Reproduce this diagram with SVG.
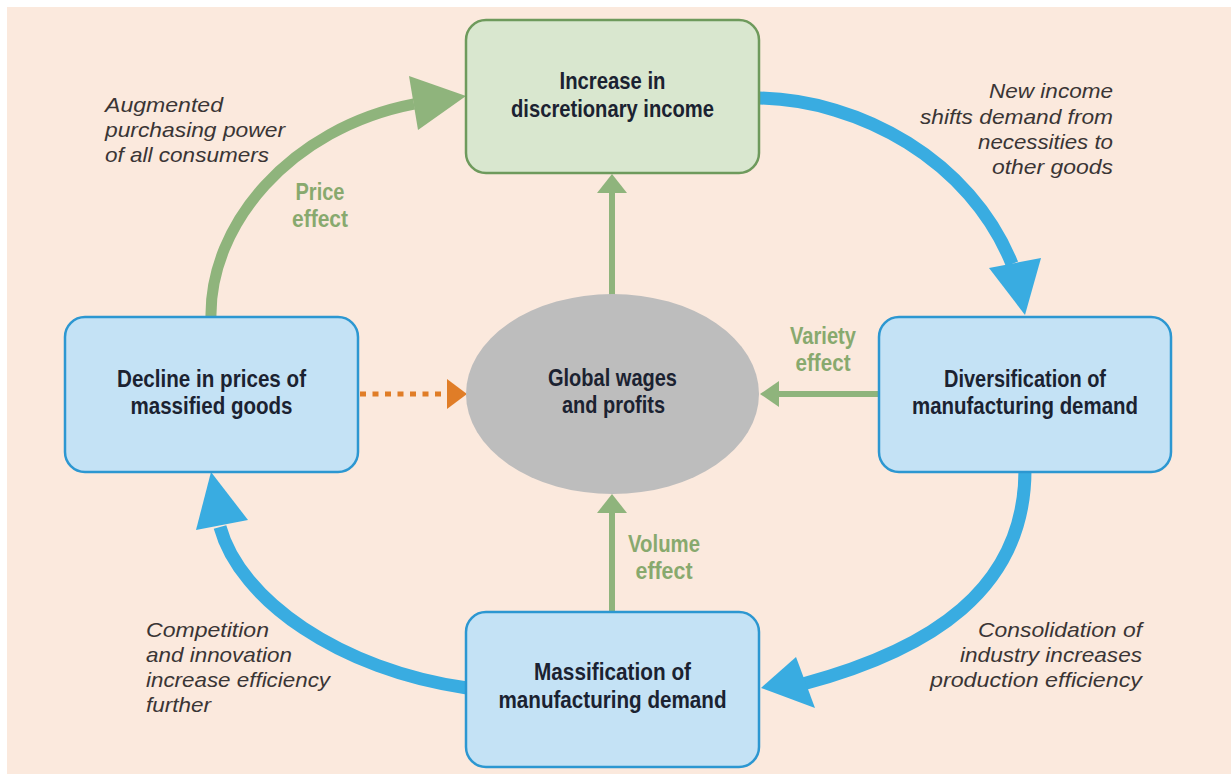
<svg xmlns="http://www.w3.org/2000/svg" width="1231" height="776" viewBox="0 0 1231 776">
<style>
.bg{fill:#fbe9dd}
.gbox{fill:#d9e7cf;stroke:#6e9a5c;stroke-width:2.5}
.bbox{fill:#c4e2f5;stroke:#2c97d1;stroke-width:2.5}
.ell{fill:#bdbdbd}
.lbl{font-family:"Liberation Sans",Arial,sans-serif;font-weight:bold;font-size:24px;fill:#1b2231;text-anchor:middle}
.eff{font-family:"Liberation Sans",Arial,sans-serif;font-weight:bold;font-size:24px;fill:#88a96e;text-anchor:middle}
.ann{font-family:"Liberation Sans",Arial,sans-serif;font-style:italic;font-size:21px;fill:#3a3535}
.ga{fill:none;stroke:#8fb47c;stroke-width:11}
.gl{fill:none;stroke:#8fb47c;stroke-width:6}
.ba{fill:none;stroke:#39ace1;stroke-width:13}
.gh{fill:#8fb47c}
.bh{fill:#39ace1}
.ol{fill:none;stroke:#e07d27;stroke-width:5;stroke-dasharray:6 6.5}
.oh{fill:#e07d27}
</style>
<rect x="0" y="0" width="1231" height="776" fill="#ffffff"/>
<rect class="bg" x="7" y="7" width="1224" height="767"/>

<g id="connectors">
  <path class="ga" d="M 211 318 C 209 225 290 128 414 104"/>
  <polygon class="gh" points="466,96 409,76 418,130"/>
  <path class="ba" d="M 759 98 C 860 100 970 160 1012 264"/>
  <polygon class="bh" points="1025,315 989,268 1041,258"/>
  <path class="ba" d="M 1025 470 C 1025 590 930 650 803 684"/>
  <polygon class="bh" points="761,688 796,657 815,708"/>
  <path class="ba" d="M 467 688 C 340 670 240 600 220 527"/>
  <polygon class="bh" points="211,472 196,530 248,520"/>
  <line class="gl" x1="612" y1="296" x2="612" y2="190"/>
  <polygon class="gh" points="612,174 597,193 627,193"/>
  <line class="gl" x1="612" y1="612" x2="612" y2="512"/>
  <polygon class="gh" points="612,494 597,513 627,513"/>
  <line class="gl" x1="879" y1="394" x2="776" y2="394"/>
  <polygon class="gh" points="760,394 779,381 779,407"/>
  <line class="ol" x1="360" y1="394" x2="448" y2="394"/>
  <polygon class="oh" points="467,394 447,379 447,409"/>
</g>

<g id="node-income">
  <rect class="gbox" x="466" y="20" width="293" height="153" rx="20"/>
  <text class="lbl" x="612.5" y="89" textLength="106" lengthAdjust="spacingAndGlyphs">Increase in</text>
  <text class="lbl" x="612.5" y="117" textLength="203" lengthAdjust="spacingAndGlyphs">discretionary income</text>
</g>
<g id="node-decline">
  <rect class="bbox" x="65" y="317" width="293" height="155" rx="20"/>
  <text class="lbl" x="211.5" y="387" textLength="189" lengthAdjust="spacingAndGlyphs">Decline in prices of</text>
  <text class="lbl" x="211.5" y="414" textLength="162" lengthAdjust="spacingAndGlyphs">massified goods</text>
</g>
<g id="node-diversification">
  <rect class="bbox" x="879" y="317" width="292" height="155" rx="20"/>
  <text class="lbl" x="1025" y="387" textLength="162" lengthAdjust="spacingAndGlyphs">Diversification of</text>
  <text class="lbl" x="1025" y="414" textLength="226" lengthAdjust="spacingAndGlyphs">manufacturing demand</text>
</g>
<g id="node-massification">
  <rect class="bbox" x="466" y="612" width="293" height="155" rx="20"/>
  <text class="lbl" x="612.5" y="680" textLength="157" lengthAdjust="spacingAndGlyphs">Massification of</text>
  <text class="lbl" x="612.5" y="708" textLength="228" lengthAdjust="spacingAndGlyphs">manufacturing demand</text>
</g>
<g id="node-global">
  <ellipse class="ell" cx="612.5" cy="394" rx="146.5" ry="100"/>
  <text class="lbl" x="612.5" y="386" textLength="129" lengthAdjust="spacingAndGlyphs">Global wages</text>
  <text class="lbl" x="613.5" y="413" textLength="103" lengthAdjust="spacingAndGlyphs">and profits</text>
</g>

<g id="labels">
  <text class="eff" x="320" y="200" textLength="49" lengthAdjust="spacingAndGlyphs">Price</text>
  <text class="eff" x="320" y="227" textLength="56" lengthAdjust="spacingAndGlyphs">effect</text>
  <text class="eff" x="823" y="344" textLength="66" lengthAdjust="spacingAndGlyphs">Variety</text>
  <text class="eff" x="823" y="371" textLength="55" lengthAdjust="spacingAndGlyphs">effect</text>
  <text class="eff" x="664" y="552" textLength="72" lengthAdjust="spacingAndGlyphs">Volume</text>
  <text class="eff" x="664" y="579" textLength="57" lengthAdjust="spacingAndGlyphs">effect</text>

  <text class="ann" x="105" y="112" textLength="118" lengthAdjust="spacingAndGlyphs">Augmented</text>
  <text class="ann" x="105" y="137" textLength="180" lengthAdjust="spacingAndGlyphs">purchasing power</text>
  <text class="ann" x="105" y="162" textLength="164" lengthAdjust="spacingAndGlyphs">of all consumers</text>

  <text class="ann" x="989" y="98" textLength="124" lengthAdjust="spacingAndGlyphs">New income</text>
  <text class="ann" x="920" y="124" textLength="193" lengthAdjust="spacingAndGlyphs">shifts demand from</text>
  <text class="ann" x="978" y="149" textLength="135" lengthAdjust="spacingAndGlyphs">necessities to</text>
  <text class="ann" x="992" y="174" textLength="121" lengthAdjust="spacingAndGlyphs">other goods</text>

  <text class="ann" x="146" y="637" textLength="123" lengthAdjust="spacingAndGlyphs">Competition</text>
  <text class="ann" x="146" y="662" textLength="146" lengthAdjust="spacingAndGlyphs">and innovation</text>
  <text class="ann" x="146" y="687" textLength="184" lengthAdjust="spacingAndGlyphs">increase efficiency</text>
  <text class="ann" x="146" y="712" textLength="65" lengthAdjust="spacingAndGlyphs">further</text>

  <text class="ann" x="978" y="637" textLength="164" lengthAdjust="spacingAndGlyphs">Consolidation of</text>
  <text class="ann" x="960" y="662" textLength="182" lengthAdjust="spacingAndGlyphs">industry increases</text>
  <text class="ann" x="930" y="687" textLength="212" lengthAdjust="spacingAndGlyphs">production efficiency</text>
</g>
</svg>
